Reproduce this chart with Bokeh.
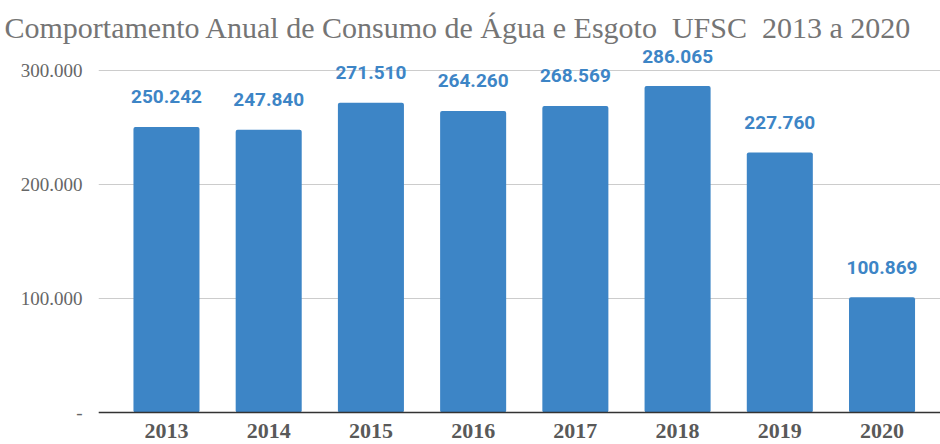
from bokeh.plotting import figure
from bokeh.models import ColumnDataSource, LabelSet, FixedTicker, Span
from bokeh.core.properties import value
from bokeh.embed import file_html
from bokeh.resources import INLINE

years = ["2013", "2014", "2015", "2016", "2017", "2018", "2019", "2020"]
consumo = [250242, 247840, 271510, 264260, 268569, 286065, 227760, 100869]
value_labels = ["250.242", "247.840", "271.510", "264.260", "268.569", "286.065", "227.760", "100.869"]
y_ticks = [0, 100000, 200000, 300000]
y_tick_labels = ["-", "100.000", "200.000", "300.000"]
title_text = "Comportamento Anual de Consumo de Água e Esgoto\u00a0 UFSC\u00a0 2013 a 2020"

xs = list(range(len(years)))
src = ColumnDataSource(dict(x=xs, y=consumo, lab=value_labels,
                            zero=[0] * len(years), yr=years))

BLUE = "#3d85c6"

Y_END = 321579
Y_START = -28070
X_START = -0.665
X_END = 7.572

p = figure(width=940, height=444, output_backend="svg", toolbar_location=None,
           x_range=(X_START, X_END), y_range=(Y_START, Y_END),
           min_border_left=98, min_border_right=0, min_border_top=45, min_border_bottom=0)

p.title.text = title_text
p.title.text_font = "Liberation Serif"
p.title.text_font_size = "30px"
p.title.text_font_style = "normal"
p.title.text_color = "#757575"
p.title.align = "left"
p.title.offset = -94
p.title.standoff = 4

p.vbar(x="x", top="y", width=0.646, source=src, fill_color=BLUE, line_color=None,
       border_radius=2)

labels = LabelSet(x="x", y="y", text="lab", source=src, y_offset=30,
                  text_align="center", text_baseline="middle",
                  text_font=value("Roboto"), text_font_style="bold",
                  text_font_size="19px", text_color=BLUE)
p.add_layout(labels)

year_labels = LabelSet(x="x", y="zero", text="yr", source=src, y_offset=-19,
                       text_align="center", text_baseline="middle",
                       text_font=value("Liberation Serif"), text_font_style="bold",
                       text_font_size="22px", text_color="#595959")
p.add_layout(year_labels)

p.add_layout(Span(location=0, dimension="width", line_color="#333333", line_width=1.5))

p.xaxis.visible = False
p.xgrid.visible = False
p.ygrid.grid_line_color = "#cccccc"
p.ygrid.grid_line_width = 1

p.yaxis.ticker = FixedTicker(ticks=y_ticks)
p.yaxis.major_label_overrides = {t: l for t, l in zip(y_ticks, y_tick_labels)}
p.yaxis.axis_line_color = None
p.yaxis.major_tick_line_color = None
p.yaxis.minor_tick_line_color = None
p.yaxis.major_label_text_font = "Liberation Serif"
p.yaxis.major_label_text_font_size = "19px"
p.yaxis.major_label_text_color = "#666666"
p.yaxis.major_label_standoff = 10

p.outline_line_color = None
p.background_fill_color = "white"
p.border_fill_color = "white"

open("out.html", "w").write(file_html(p, INLINE))
